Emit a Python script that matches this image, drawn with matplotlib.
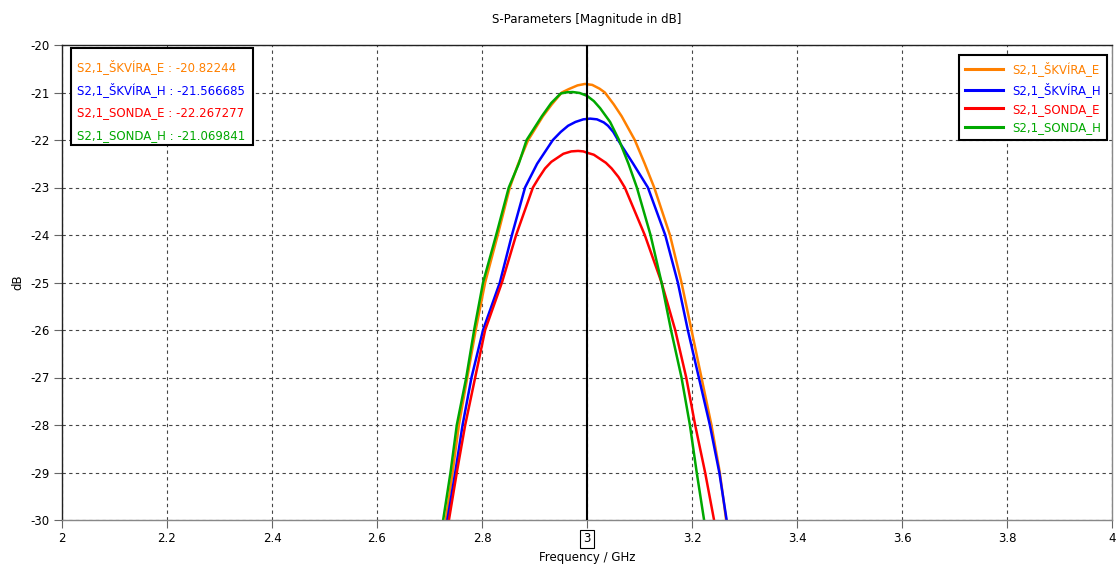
import matplotlib
matplotlib.use("Agg")
import matplotlib.pyplot as plt
from matplotlib.patches import Rectangle

# curves (frequency in GHz, magnitude in dB)
skvira_e_f = [2.731, 2.744, 2.756, 2.772, 2.788, 2.806, 2.830, 2.853, 2.869, 2.888, 2.916, 2.933,
              2.952, 2.965, 2.982, 2.996, 3.010, 3.024, 3.034, 3.051, 3.066, 3.091, 3.110, 3.128,
              3.158, 3.180, 3.199, 3.218, 3.237, 3.253, 3.265]
skvira_e_db = [-30, -29, -28, -27, -26, -25, -24, -23, -22.5, -22, -21.5, -21.25,
               -21.0, -20.93, -20.85, -20.82, -20.84, -20.92, -21.0, -21.25, -21.5, -22, -22.5, -23,
               -24, -25, -26, -27, -28, -29, -30]

skvira_h_f = [2.734, 2.749, 2.763, 2.780, 2.802, 2.834, 2.857, 2.882, 2.905, 2.935, 2.950, 2.964,
              2.978, 2.993, 3.006, 3.019, 3.032, 3.040, 3.050, 3.059, 3.088, 3.116, 3.149, 3.173,
              3.192, 3.213, 3.234, 3.252, 3.266]
skvira_h_db = [-30, -29, -28, -27, -26, -25, -24, -23, -22.5, -22, -21.83, -21.7,
               -21.62, -21.565, -21.55, -21.565, -21.63, -21.7, -21.83, -22, -22.5, -23, -24, -25,
               -26, -27, -28, -29, -30]

sonda_e_f = [2.737, 2.752, 2.768, 2.787, 2.806, 2.838, 2.865, 2.897, 2.908, 2.920, 2.932, 2.955,
             2.970, 2.983, 2.993, 3.0, 3.013, 3.036, 3.047, 3.060, 3.072, 3.110, 3.142, 3.168,
             3.189, 3.206, 3.225, 3.242]
sonda_e_db = [-30, -29, -28, -27, -26, -25, -24, -23, -22.8, -22.6, -22.46, -22.29,
              -22.24, -22.23, -22.24, -22.267, -22.31, -22.48, -22.6, -22.78, -23, -24, -25, -26,
              -27, -28, -29, -30]

sonda_h_f = [2.726, 2.740, 2.752, 2.770, 2.785, 2.802, 2.827, 2.851, 2.870, 2.885, 2.914, 2.932,
             2.950, 2.962, 2.973, 2.986, 3.0, 3.013, 3.025, 3.044, 3.061, 3.079, 3.095, 3.121,
             3.142, 3.160, 3.180, 3.196, 3.209, 3.223]
sonda_h_db = [-30, -29, -28, -27, -26, -25, -24, -23, -22.5, -22, -21.5, -21.22,
              -21.02, -20.995, -20.99, -21.01, -21.07, -21.18, -21.33, -21.62, -22, -22.5, -23, -24,
              -25, -26, -27, -28, -29, -30]

names = ["S2,1_ŠKVÍRA_E", "S2,1_ŠKVÍRA_H", "S2,1_SONDA_E", "S2,1_SONDA_H"]
marker_vals = ["-20.82244", "-21.566685", "-22.267277", "-21.069841"]
colors = ["#FF8000", "#0000FF", "#FF0000", "#00A800"]

x_ticks = [2, 2.2, 2.4, 2.6, 2.8, 3, 3.2, 3.4, 3.6, 3.8, 4]
y_ticks = [-20, -21, -22, -23, -24, -25, -26, -27, -28, -29, -30]
marker_f = 3.0

W, H = 1116, 572
AX_L, AX_R, AX_T, AX_B = 62, 1112, 45, 520


def px2ax(px, py):
    # pixel position in the figure -> axes fraction
    return (px - AX_L) / (AX_R - AX_L), (AX_B - py) / (AX_B - AX_T)


fs = 8.5
fig = plt.figure(figsize=(W / 100, H / 100), dpi=100)
ax = fig.add_axes([AX_L / W, 1 - AX_B / H, (AX_R - AX_L) / W, (AX_B - AX_T) / H])

series = [(skvira_e_f, skvira_e_db), (skvira_h_f, skvira_h_db),
          (sonda_e_f, sonda_e_db), (sonda_h_f, sonda_h_db)]
for (f, db), name, c in zip(series, names, colors):
    ax.plot(f, db, color=c, lw=1.8, label=name, solid_joinstyle="round")

ax.axvline(marker_f, color="black", lw=1.5, zorder=5)

ax.set_xlim(2, 4)
ax.set_ylim(-30, -20)
ax.set_xticks(x_ticks)
ax.set_yticks(y_ticks)
ax.set_xticklabels([("%g" % v) for v in x_ticks], fontsize=fs)
ax.set_yticklabels([("%g" % v) for v in y_ticks], fontsize=fs)
for lab, v in zip(ax.get_xticklabels(), x_ticks):
    if v == marker_f:
        lab.set_bbox(dict(boxstyle="square,pad=0.25", fc="white", ec="black", lw=0.8))
ax.tick_params(direction="out", length=6, width=0.8, color="#666666", pad=3)
ax.grid(True, color="#444444", linestyle=(0, (3, 3)), lw=0.8)
for side in ["top", "left"]:
    ax.spines[side].set_color("#222222")
for side in ["bottom", "right"]:
    ax.spines[side].set_color("#888888")
for sp in ax.spines.values():
    sp.set_linewidth(1.0)

ax.set_xlabel("Frequency / GHz", fontsize=fs, labelpad=4)
ax.set_ylabel("dB", fontsize=fs, labelpad=4)
ax.set_title("S-Parameters [Magnitude in dB]", fontsize=fs, pad=16)

# right legend
leg = ax.legend(loc="upper right", bbox_to_anchor=(0.9952, 0.979), borderaxespad=0,
                fontsize=fs, labelcolor="linecolor", fancybox=False, framealpha=1,
                edgecolor="black", handlelength=3.2, handletextpad=0.8,
                labelspacing=0.5, borderpad=0.5)
leg.get_frame().set_linewidth(1.5)
for h in leg.get_lines():
    h.set_linewidth(2.2)

# marker value box (upper left)
x0, y0 = px2ax(71, 145)
x1, y1 = px2ax(253, 48)
ax.add_patch(Rectangle((x0, y0), x1 - x0, y1 - y0, transform=ax.transAxes,
                       fc="white", ec="black", lw=1.5, zorder=6))
for i, (n, v, c) in enumerate(zip(names, marker_vals, colors)):
    tx, ty = px2ax(77, 67 + i * 22.7)
    ax.text(tx, ty, "%s : %s" % (n, v), color=c, fontsize=fs, va="center", ha="left",
            transform=ax.transAxes, zorder=7)

fig.savefig("out.png", dpi=100)
